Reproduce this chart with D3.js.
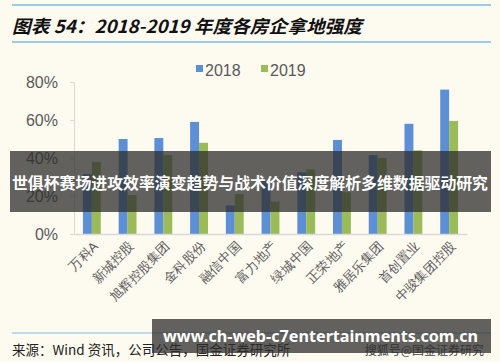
<!DOCTYPE html>
<html><head><meta charset="utf-8">
<script src="https://cdn.jsdelivr.net/npm/d3@7"></script>
<style>
body{margin:0;background:#fdfaf0;}
svg{display:block;font-family:"Noto Sans CJK SC","Noto Sans",sans-serif;}
</style></head><body>
<svg id="c" width="500" height="362"></svg>
<script>
const categories = ["万科A","新城控股","旭辉控股集团","金科股份","融信中国","富力地产","绿城中国","正荣地产","雅居乐集团","首创置业","中骏集团控股"];
const series2018 = [31.5,50,50.5,59,15,28,32.5,49.5,41.5,58,76];
const series2019 = [38,20.5,41.5,48,21,17,34,22,40,44,59.5];
const seriesNames = ["2018","2019"];
const colors = ["#5d8fd5","#9bbb59"];
const yTicks = [0,20,40,60,80];

const svg = d3.select("#c");
svg.append("rect").attr("width",500).attr("height",362).attr("fill","#fdfaf0");

// title block
svg.append("line").attr("x1",12).attr("x2",491).attr("y1",5).attr("y2",5).attr("stroke","#7fb8e6").attr("stroke-width",1.5);
svg.append("text").attr("x",12).attr("y",33).attr("font-size",18).attr("font-weight","bold").attr("font-style","italic")
  .attr("fill","#111").attr("textLength",350).attr("lengthAdjust","spacingAndGlyphs")
  .text("图表 54：2018-2019 年度各房企拿地强度");
svg.append("line").attr("x1",12).attr("x2",491).attr("y1",42).attr("y2",42).attr("stroke","#7fb8e6").attr("stroke-width",1.5);

const x0 = d3.scaleBand().domain(categories).range([74,467]).paddingInner(0.5).paddingOuter(0.25);
const x1 = d3.scaleBand().domain(seriesNames).range([0,x0.bandwidth()]);
const y = d3.scaleLinear().domain([0,80]).range([234,82]);

// y axis
const ya = svg.append("g").attr("transform","translate(74,0)")
  .call(d3.axisLeft(y).tickValues(yTicks).tickFormat(d=>d+"%").tickSize(4).tickPadding(12));
ya.select(".domain").attr("stroke","#d9d9d9");
ya.selectAll(".tick line").attr("stroke","#d9d9d9");
ya.selectAll("text").attr("font-size",16).attr("fill","#595959").attr("font-family","Liberation Sans, Noto Sans, sans-serif");

// bars
const data = categories.map((c,i)=>({c, v:[series2018[i],series2019[i]]}));
const g = svg.append("g").selectAll("g").data(data).join("g").attr("transform",d=>`translate(${x0(d.c)},0)`);
g.selectAll("rect").data(d=>d.v.map((v,j)=>({k:seriesNames[j],v,j}))).join("rect")
  .attr("x",d=>x1(d.k)).attr("width",x1.bandwidth()).attr("y",d=>y(d.v)).attr("height",d=>y(0)-y(d.v))
  .attr("fill",d=>colors[d.j]);

// x axis
const xa = svg.append("g").attr("transform","translate(0,234)").call(d3.axisBottom(x0).tickSize(0).tickPadding(0));
xa.select(".domain").attr("stroke","#d9d9d9").attr("stroke-width",1.5);
xa.selectAll("text").attr("font-size",13).attr("fill","#595959").attr("text-anchor","end")
  .attr("dy",0).attr("transform","translate(7,13) rotate(-45)");

// legend
const leg = svg.append("g");
[[196,"2018"],[261,"2019"]].forEach(([lx,t],i)=>{
  leg.append("rect").attr("x",lx).attr("y",65).attr("width",7).attr("height",7).attr("fill",colors[i]);
  leg.append("text").attr("x",lx+9).attr("y",75.5).attr("font-size",16).attr("fill","#595959")
   .attr("font-family","Liberation Sans, Noto Sans, sans-serif").text(t);
});

// source
svg.append("line").attr("x1",12).attr("x2",491).attr("y1",333).attr("y2",333).attr("stroke","#7fb8e6").attr("stroke-width",1.2);
svg.append("text").attr("x",12).attr("y",355).attr("font-size",13.5).attr("fill","#222").text("来源：Wind 资讯，公司公告，国金证券研究所");
svg.append("text").attr("x",484).attr("y",355).attr("text-anchor","end").attr("font-size",12).attr("fill","#444").text("搜狐号@国金证券研究");

// overlay banners
svg.append("rect").attr("x",10).attr("y",151).attr("width",481).attr("height",61).attr("fill","rgba(45,45,45,0.75)");
svg.append("text").attr("x",12).attr("y",189).attr("font-size",15.5).attr("font-weight","bold")
  .attr("fill","#fff").attr("textLength",476).attr("lengthAdjust","spacingAndGlyphs")
  .text("世俱杯赛场进攻效率演变趋势与战术价值深度解析多维数据驱动研究");
svg.append("rect").attr("x",152).attr("y",319).attr("width",339).attr("height",34).attr("fill","rgba(45,45,45,0.75)");
svg.append("text").attr("x",163).attr("y",342).attr("font-size",16).attr("font-weight","bold")
  .attr("fill","#fff").attr("font-family","Noto Sans, DejaVu Sans, sans-serif")
  .attr("textLength",315).attr("lengthAdjust","spacingAndGlyphs")
  .text("www.ch-web-c7entertainments.com.cn");
</script></body></html>
